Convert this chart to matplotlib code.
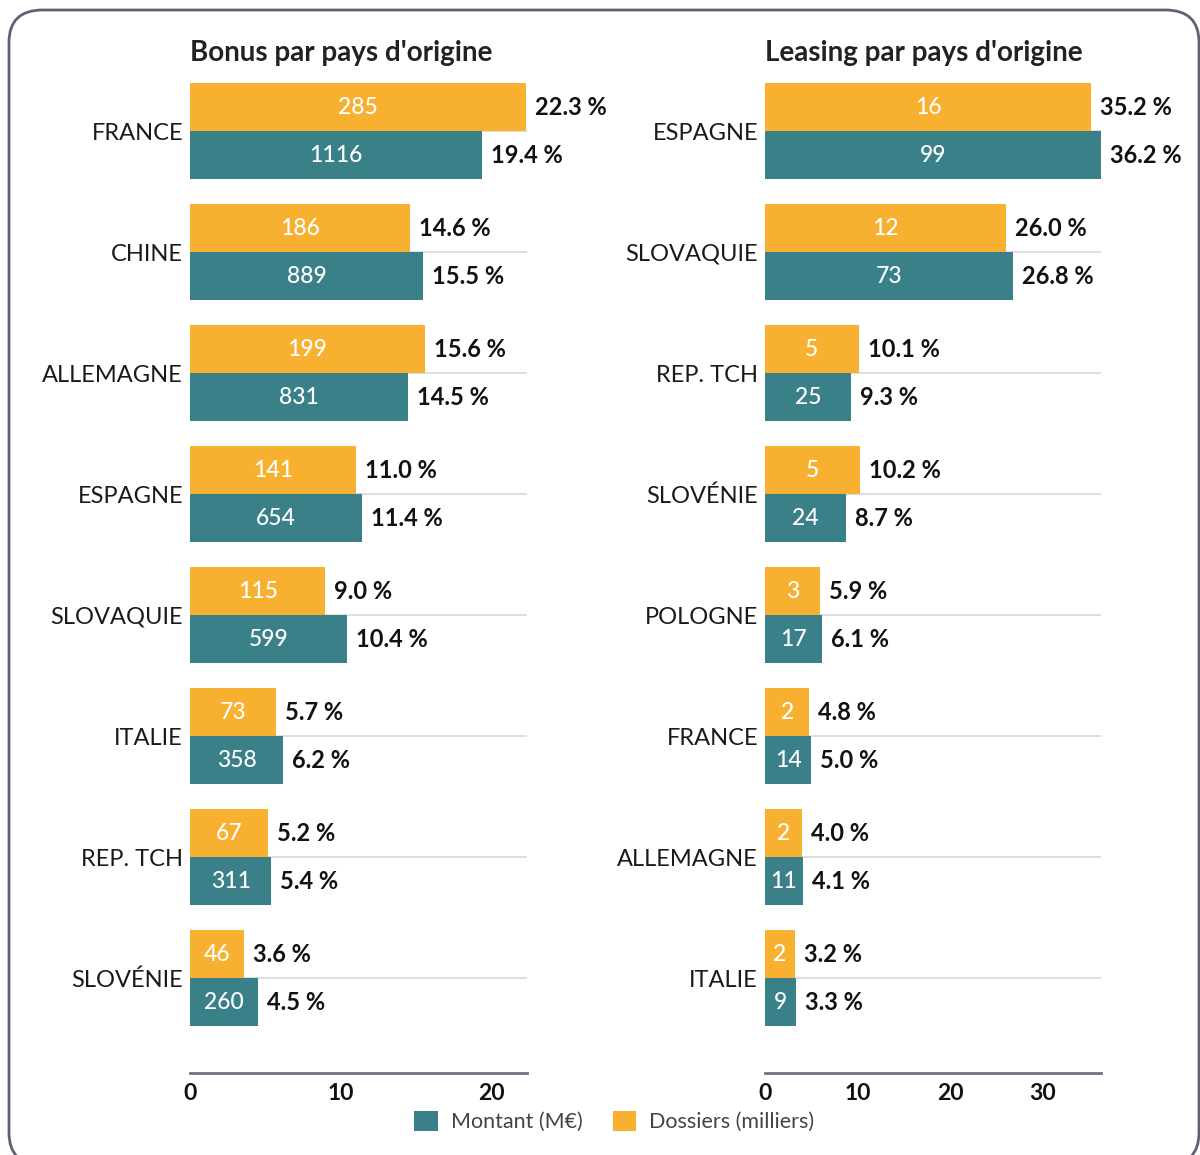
import matplotlib.pyplot as plt
from matplotlib.patches import FancyBboxPatch, Patch

plt.rcParams['font.family'] = ['Lato', 'DejaVu Sans']

# Bonus par pays d'origine
bonus_pays = ['FRANCE', 'CHINE', 'ALLEMAGNE', 'ESPAGNE', 'SLOVAQUIE',
              'ITALIE', 'REP. TCH', 'SLOVÉNIE']
bonus_dossiers = [285, 186, 199, 141, 115, 73, 67, 46]
bonus_dossiers_pct = [22.3, 14.6, 15.6, 11.0, 9.0, 5.7, 5.2, 3.6]
bonus_montant = [1116, 889, 831, 654, 599, 358, 311, 260]
bonus_montant_pct = [19.4, 15.5, 14.5, 11.4, 10.4, 6.2, 5.4, 4.5]

# Leasing par pays d'origine
leasing_pays = ['ESPAGNE', 'SLOVAQUIE', 'REP. TCH', 'SLOVÉNIE', 'POLOGNE',
                'FRANCE', 'ALLEMAGNE', 'ITALIE']
leasing_dossiers = [16, 12, 5, 5, 3, 2, 2, 2]
leasing_dossiers_pct = [35.2, 26.0, 10.1, 10.2, 5.9, 4.8, 4.0, 3.2]
leasing_montant = [99, 73, 25, 24, 17, 14, 11, 9]
leasing_montant_pct = [36.2, 26.8, 9.3, 8.7, 6.1, 5.0, 4.1, 3.3]

ORANGE = '#f7b030'
TEAL = '#3a8088'
hauteur = 0.397


def panneau(ax, titre, pays, dossiers, d_pct, montant, m_pct, xmax, ticks, pas):
    y = list(range(len(pays)))
    for yi in y:
        ax.plot([0, xmax], [yi, yi], color='#d8d8d8', lw=1.2, zorder=0)
    ax.barh(y, d_pct, height=-hauteur, align='edge', color=ORANGE, zorder=2)
    ax.barh(y, m_pct, height=hauteur, align='edge', color=TEAL, zorder=2)
    for yi, n, p in zip(y, dossiers, d_pct):
        ax.text(p / 2, yi - hauteur / 2, str(n), color='white', fontsize=16.5,
                ha='center', va='center', fontweight='medium')
        ax.text(p + pas, yi - hauteur / 2, '%.1f %%' % p, color='#111111',
                fontsize=17, ha='left', va='center', fontweight='bold')
    for yi, n, p in zip(y, montant, m_pct):
        ax.text(p / 2, yi + hauteur / 2, str(n), color='white', fontsize=16.5,
                ha='center', va='center', fontweight='medium')
        ax.text(p + pas, yi + hauteur / 2, '%.1f %%' % p, color='#111111',
                fontsize=17, ha='left', va='center', fontweight='bold')

    ax.set_xlim(0, xmax)
    ax.set_ylim(7.785, -hauteur)
    ax.set_yticks(y)
    ax.set_yticklabels(pays, fontsize=17, color='#1a1a1a')
    ax.set_xticks(ticks)
    ax.set_xticklabels([str(t) for t in ticks], fontsize=16.5,
                       fontweight='bold', color='#111111')
    ax.tick_params(axis='y', length=0, pad=5)
    ax.tick_params(axis='x', length=0, pad=7)
    for s in ['top', 'right', 'left']:
        ax.spines[s].set_visible(False)
    ax.spines['bottom'].set_color('#6b7280')
    ax.spines['bottom'].set_linewidth(2)
    ax.set_title(titre, loc='left', fontsize=20, fontweight='bold',
                 color='#222222', pad=16)


fig = plt.figure(figsize=(12, 11.55), dpi=100)

ax1 = fig.add_axes([0.1583, 0.0710, 0.2809, 0.8571])
ax2 = fig.add_axes([0.6375, 0.0710, 0.2800, 0.8571])

panneau(ax1, 'Bonus par pays d\'origine', bonus_pays, bonus_dossiers,
        bonus_dossiers_pct, bonus_montant, bonus_montant_pct,
        22.39, [0, 10, 20], 0.6)
panneau(ax2, 'Leasing par pays d\'origine', leasing_pays, leasing_dossiers,
        leasing_dossiers_pct, leasing_montant, leasing_montant_pct,
        36.25, [0, 10, 20, 30], 0.97)

legende = [Patch(facecolor=TEAL, label='Montant (M€)'),
           Patch(facecolor=ORANGE, label='Dossiers (milliers)')]
fig.legend(handles=legende, loc='center', bbox_to_anchor=(0.512, 0.029),
           ncol=2, frameon=False, fontsize=15.5, labelcolor='#444444',
           handlelength=1.1, handleheight=1.1, handletextpad=0.6,
           columnspacing=1.4)

cadre = FancyBboxPatch((9 / 1200, -10 / 1155), 1190 / 1200, 1155 / 1155,
                       boxstyle='round,pad=0,rounding_size=0.028',
                       transform=fig.transFigure, facecolor='none',
                       edgecolor='#5b6372', lw=2, zorder=-1)
fig.patches.append(cadre)

plt.savefig('out.png', dpi=100)
